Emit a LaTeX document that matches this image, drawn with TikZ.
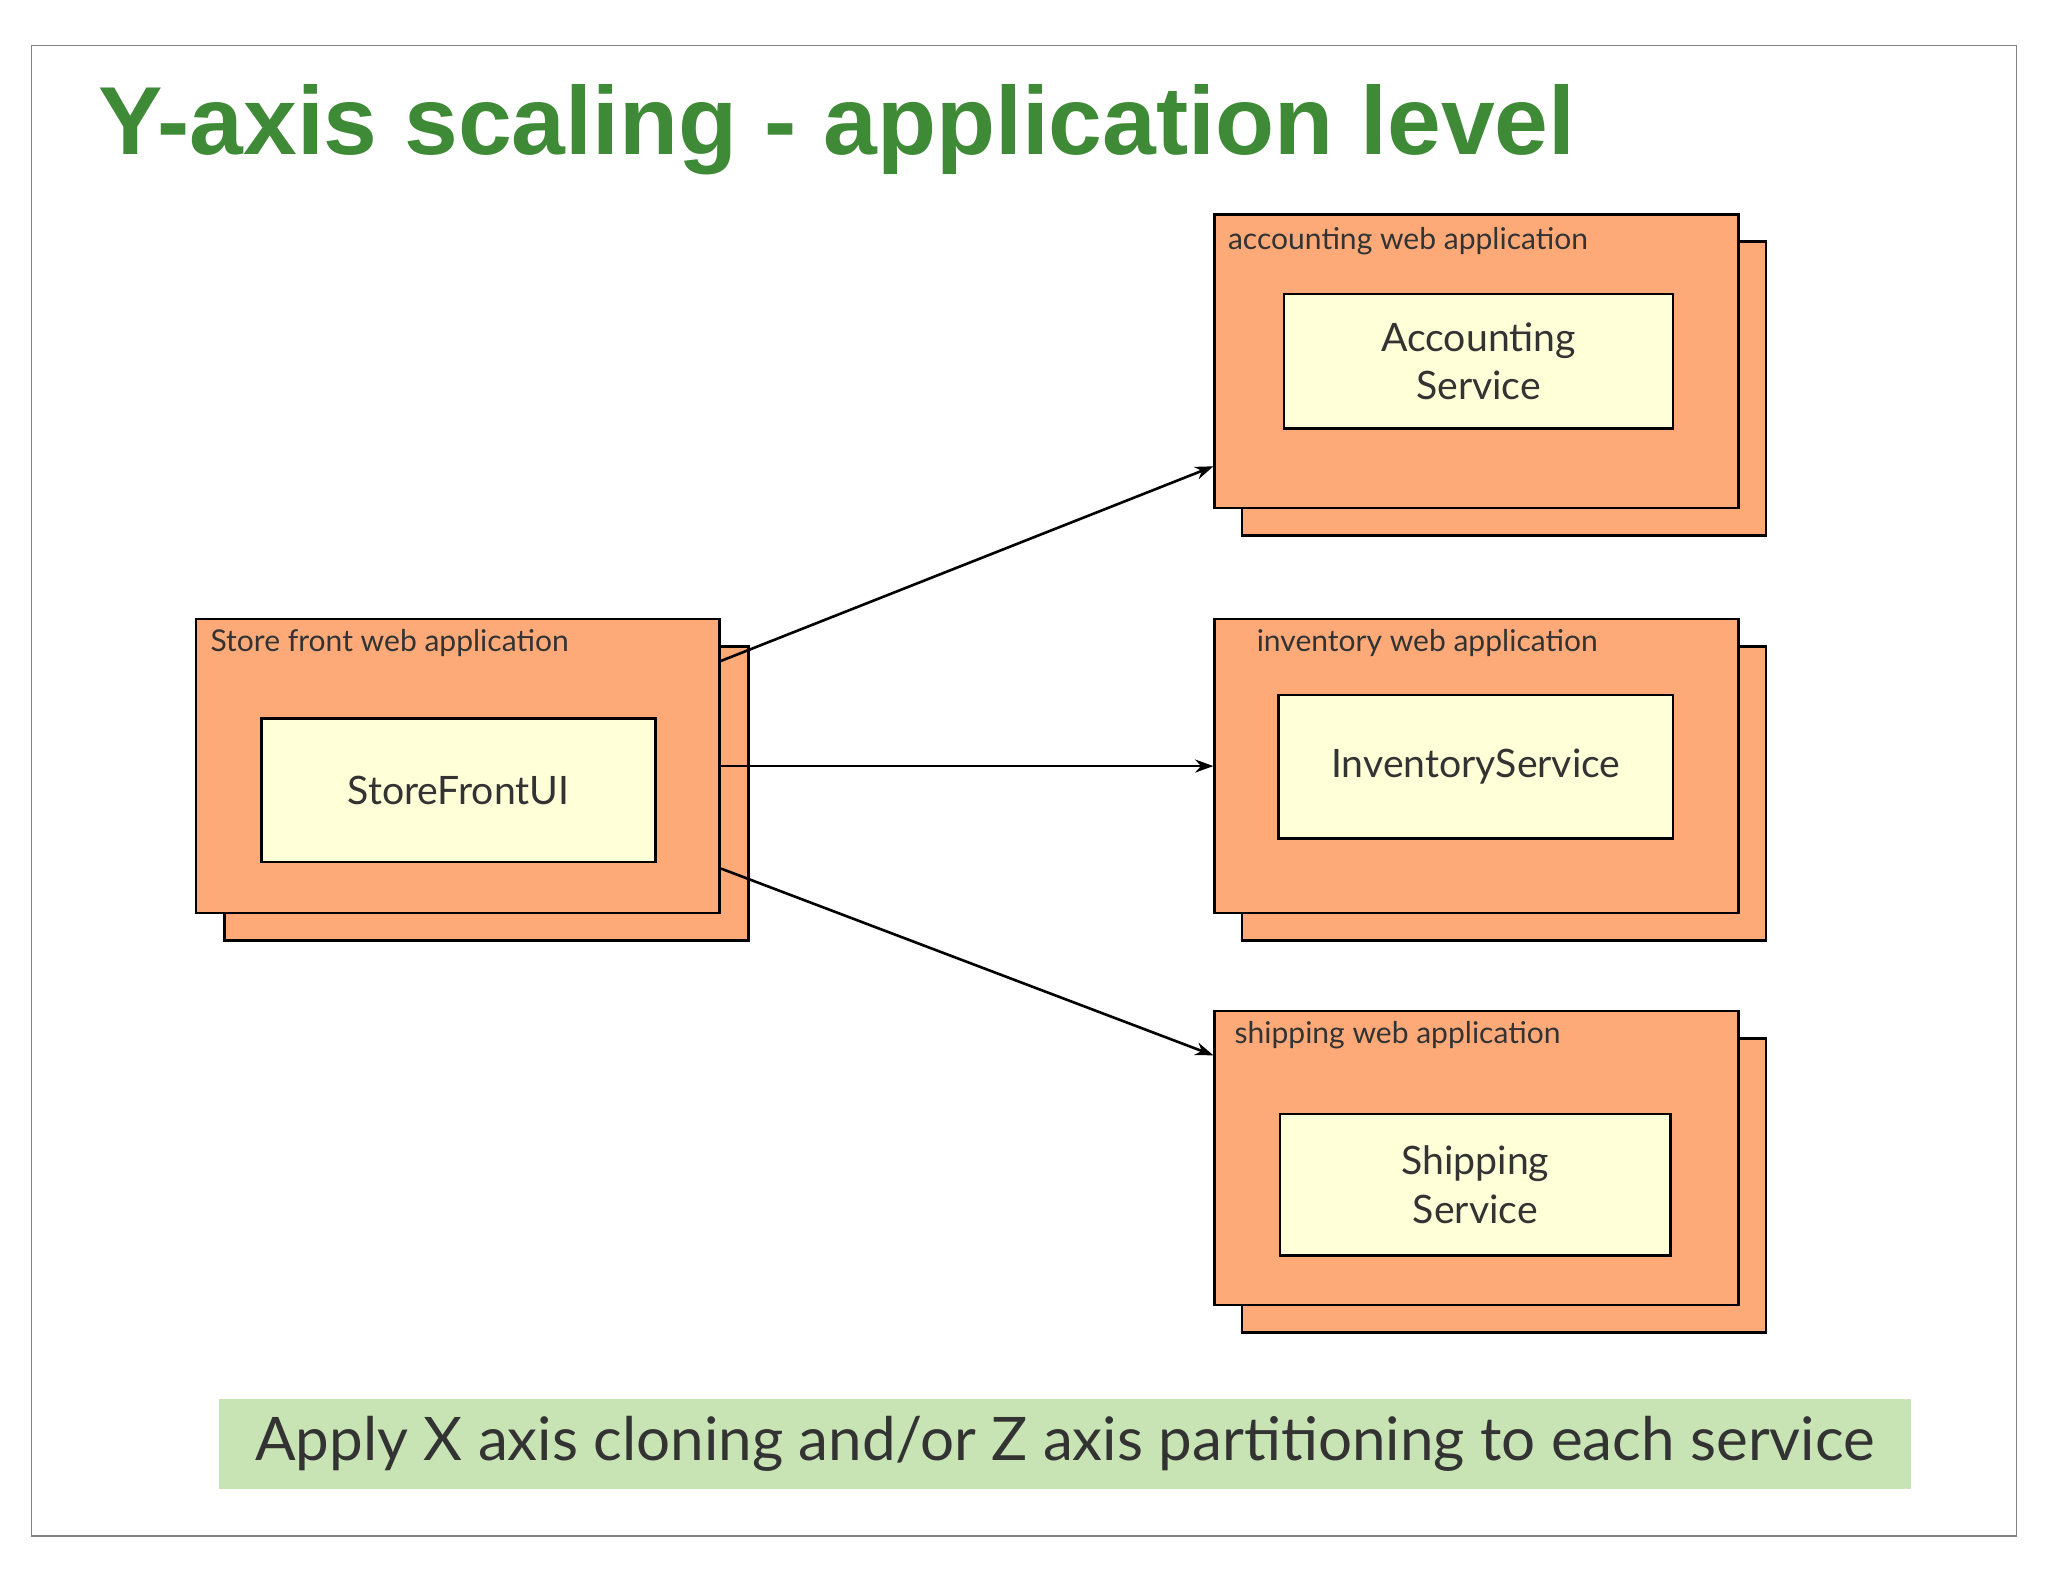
\documentclass[tikz,border=0pt]{standalone}
\usepackage{fontspec}
\setmainfont{Lato}
\newfontfamily\titlefont{Liberation Sans}
\usetikzlibrary{arrows.meta}
\definecolor{appfill}{HTML}{FDAA78}
\definecolor{svcfill}{HTML}{FFFFD8}
\definecolor{titlegreen}{HTML}{3F8A36}
\definecolor{notegreen}{HTML}{C9E4B4}
\definecolor{txt}{HTML}{333333}
\tikzset{
  app/.style={draw=black, line width=2pt, fill=appfill, minimum width=401pt, minimum height=225pt, inner sep=0pt},
  svc/.style={draw=black, line width=2pt, fill=svcfill, inner sep=0pt, align=center, text=txt,
    font=\fontsize{30}{37}\selectfont},
  lbl/.style={anchor=north west, inner sep=0pt, text=txt, font=\fontsize{23}{28}\selectfont},
  link/.style={-{Stealth[length=14pt,width=10pt]}, line width=2pt}
}
\begin{document}
\begin{tikzpicture}[x=1pt,y=-1pt]
\useasboundingbox (0,0) rectangle (1568,1211);
\fill[white] (0,0) rectangle (1568,1211);
\draw[gray, line width=1pt] (24,35) rectangle (1544,1176);
\node[anchor=base west, inner sep=0pt, text=titlegreen, font=\titlefont\bfseries\fontsize{74}{80}\selectfont] (title) at (75,118) {Y-axis scaling - application level};

% store front
\node[app] (sfb) at (372.5,607.5) {};
\node[app] (sf) at (350.5,586.5) {};
\node[lbl] (sfl) at (161,482) {Store front web application};
\node[svc, minimum width=302pt, minimum height=110pt] (sfui) at (351,605) {StoreFrontUI};

% accounting
\node[app] (accb) at (1151.5,297.5) {};
\node[app] (acc) at (1130.5,276.5) {};
\node[lbl] (accl) at (940,174) {accounting web application};
\node[svc, minimum width=298pt, minimum height=103pt] (accs) at (1132,276.5) {Accounting\\Service};

% inventory
\node[app] (invb) at (1151.5,607.5) {};
\node[app] (inv) at (1130.5,586.5) {};
\node[lbl] (invl) at (962,482) {inventory web application};
\node[svc, minimum width=302pt, minimum height=110pt] (invs) at (1130,587) {InventoryService};

% shipping
\node[app] (shpb) at (1151.5,907.5) {};
\node[app] (shp) at (1130.5,886.5) {};
\node[lbl] (shpl) at (945,782) {shipping web application};
\node[svc, minimum width=299pt, minimum height=108pt] (shps) at (1129.5,907) {Shipping\\Service};

% connectors
\coordinate (a1) at (sf.east |- 0,506);
\coordinate (a3) at (sf.east |- 0,665);
\coordinate (b1) at (acc.west |- 0,357);
\coordinate (b3) at (shp.west |- 0,808);
\draw[link] (a1) -- (b1);
\draw[link] (sf.east) -- (inv.west);
\draw[link] (a3) -- (b3);

% note
\node[fill=notegreen, minimum width=1295pt, minimum height=69pt, inner sep=0pt, text=txt,
  font=\fontsize{46}{52}\selectfont] (note) at (815.5,1105.5) {Apply X axis cloning and/or Z axis partitioning to each service};
\end{tikzpicture}
\end{document}
